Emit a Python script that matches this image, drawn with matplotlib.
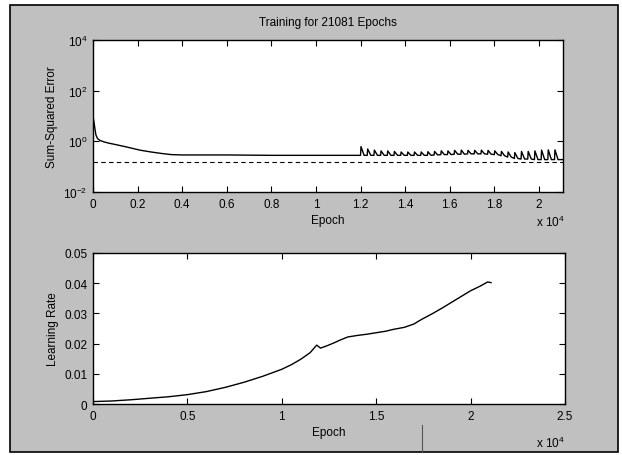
import math
import matplotlib
matplotlib.use("Agg")
import matplotlib.pyplot as plt
from matplotlib.patches import Rectangle
from matplotlib.lines import Line2D
from matplotlib.ticker import FixedLocator, FuncFormatter

# ---------------- data ----------------
total_epochs = 21081
goal_sse = 0.15

# smooth part of the sum-squared error curve (before the spikes)
sse_epochs = [0, 40, 90, 130, 200, 300, 460, 700, 1000, 1500, 2100, 2600,
              3100, 3500, 4000, 6000, 8000, 10000, 12000]
sse_values = [10.0, 6.0, 3.0, 1.8, 1.3, 1.1, 0.97, 0.85, 0.75, 0.6, 0.45, 0.38,
              0.33, 0.30, 0.29, 0.29, 0.28, 0.28, 0.28]

# periodic spikes after epoch 12000
spike_epochs = [12000, 12300, 12600, 12900, 13200, 13500, 13800, 14100, 14400,
                14700, 15000, 15300, 15600, 15900, 16200, 16500, 16800, 17100,
                17400, 17700, 18000, 18300, 18600, 18900, 19200, 19500, 19800,
                20100, 20400, 20700]
spike_peaks = [0.62, 0.50, 0.45, 0.42, 0.42, 0.40, 0.38, 0.38, 0.38,
               0.38, 0.39, 0.40, 0.42, 0.42, 0.44, 0.45, 0.44, 0.44,
               0.45, 0.44, 0.42, 0.40, 0.38, 0.36, 0.40, 0.40, 0.42,
               0.45, 0.46, 0.46]
spike_bases = [0.28, 0.28, 0.28, 0.28, 0.28, 0.28, 0.28, 0.28, 0.28,
               0.28, 0.28, 0.29, 0.30, 0.30, 0.31, 0.31, 0.32, 0.32,
               0.32, 0.31, 0.30, 0.27, 0.24, 0.21, 0.20, 0.20, 0.19,
               0.19, 0.19, 0.19]
sse_end = 0.19

# learning rate curve
lr_epochs = [0, 1000, 2000, 3000, 4000, 5000, 6000, 7000, 8000, 9000, 10000,
             10500, 11000, 11500, 11850, 12050, 12400, 12750, 13100, 13500,
             14000, 14500, 15000, 15500, 15900, 16500, 17000, 17400, 18000,
             18500, 19000, 19500, 20000, 20500, 20900, 21081]
lr_values = [0.0008, 0.0010, 0.0014, 0.0019, 0.0024, 0.0031, 0.0041, 0.0055,
             0.0072, 0.0092, 0.0115, 0.0130, 0.0148, 0.0170, 0.0195, 0.0185,
             0.0193, 0.0202, 0.0212, 0.0222, 0.0227, 0.0231, 0.0236, 0.0241,
             0.0247, 0.0254, 0.0265, 0.0280, 0.0300, 0.0318, 0.0337, 0.0356,
             0.0375, 0.0390, 0.0404, 0.0402]

top_xticks = [0, 0.2, 0.4, 0.6, 0.8, 1.0, 1.2, 1.4, 1.6, 1.8, 2.0]
bottom_xticks = [0, 0.5, 1.0, 1.5, 2.0, 2.5]
lr_yticks = [0, 0.01, 0.02, 0.03, 0.04, 0.05]
sse_yticks = [1e-2, 1e0, 1e2, 1e4]

# assemble the SSE polyline from the listed values
xs = list(sse_epochs)
ys = list(sse_values)
for e, p, b in zip(spike_epochs, spike_peaks, spike_bases):
    xs += [e, e + 20, e + 160]
    ys += [b, p, b]
xs.append(total_epochs)
ys.append(sse_end)

# ---------------- figure ----------------
plt.rcParams['font.family'] = ['Liberation Sans', 'DejaVu Sans']
plt.rcParams['mathtext.default'] = 'regular'
plt.rcParams['font.size'] = 8.5

W, H = 622, 456
fig = plt.figure(figsize=(W / 100, H / 100), dpi=100, facecolor='white')

def fx(px):
    return px / W

def fy(py):
    return 1 - py / H

fig.add_artist(Rectangle((fx(10), fy(453)), fx(618) - fx(10), fy(6) - fy(453),
                         transform=fig.transFigure, facecolor='#c0c0c0',
                         edgecolor='black', linewidth=1.2, zorder=-10))
fig.add_artist(Line2D([fx(422), fx(422)], [fy(426), fy(453)],
                      transform=fig.transFigure, color='#555555', linewidth=0.8))

def style(ax):
    ax.set_facecolor('white')
    for s in ax.spines.values():
        s.set_linewidth(1.0)
        s.set_color('black')
    ax.tick_params(direction='in', length=4, width=0.8, top=True, right=True,
                   colors='black', labelsize=8.5, pad=4)
    ax.tick_params(which='minor', length=0)

# top axes: sum-squared error
ax1 = fig.add_axes([fx(93), fy(193), fx(563) - fx(93), fy(41) - fy(193)])
style(ax1)
ax1.set_yscale('log')
ax1.plot(xs, ys, color='black', linewidth=1.0)
ax1.plot([0, total_epochs], [goal_sse, goal_sse], color='black',
         linewidth=0.8, linestyle=(0, (4, 3)))
ax1.set_xlim(0, total_epochs)
ax1.set_ylim(1e-2, 1e4)
ax1.xaxis.set_major_locator(FixedLocator([t * 1e4 for t in top_xticks]))
ax1.xaxis.set_major_formatter(FuncFormatter(lambda v, p: '%g' % round(v / 1e4, 2)))
ax1.yaxis.set_major_locator(FixedLocator(sse_yticks))
ax1.yaxis.set_minor_locator(FixedLocator([]))
ax1.yaxis.set_major_formatter(FuncFormatter(
    lambda v, p: '$10^{%d}$' % round(math.log10(v))))
ax1.set_xlabel('Epoch', labelpad=3)
ax1.set_ylabel('Sum-Squared Error', labelpad=4)
ax1.set_title('Training for 21081 Epochs', fontsize=8.5, pad=11)
fig.text(fx(565), fy(222), 'x 10$^{4}$', ha='right', va='center', fontsize=8.5)

# bottom axes: learning rate
ax2 = fig.add_axes([fx(93), fy(405), fx(565) - fx(93), fy(254) - fy(405)])
style(ax2)
ax2.plot(lr_epochs, lr_values, color='black', linewidth=1.0)
ax2.set_xlim(0, 25000)
ax2.set_ylim(0, 0.05)
ax2.xaxis.set_major_locator(FixedLocator([t * 1e4 for t in bottom_xticks]))
ax2.xaxis.set_major_formatter(FuncFormatter(lambda v, p: '%g' % round(v / 1e4, 2)))
ax2.yaxis.set_major_locator(FixedLocator(lr_yticks))
ax2.yaxis.set_major_formatter(FuncFormatter(lambda v, p: '%g' % round(v, 3)))
ax2.set_xlabel('Epoch', labelpad=3)
ax2.set_ylabel('Learning Rate', labelpad=4)
fig.text(fx(565), fy(443), 'x 10$^{4}$', ha='right', va='center', fontsize=8.5)

fig.savefig('out.png', dpi=100, facecolor='white')
